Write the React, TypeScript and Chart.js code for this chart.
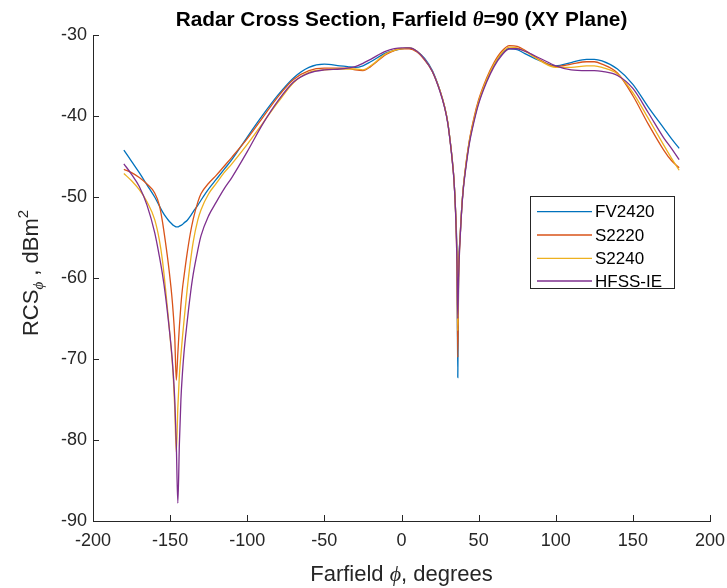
import React, { useEffect, useRef } from 'react';
import { Chart, registerables } from 'chart.js';

Chart.register(...registerables);

// Farfield angle phi (degrees)
const PHI = [
  -180, -175, -170, -165, -160, -157, -155, -153, -151, -149,
  -148, -147, -146, -145, -144, -143, -142, -141, -139, -137,
  -135, -132, -130, -125, -120, -115, -110, -100, -90, -80,
  -70, -60, -50, -40, -35, -30, -25, -20, -10, 0,
  5, 10, 15, 20, 25, 28, 30, 32, 33, 34,
  35, 36, 36.5, 37, 38, 39, 40, 42, 44, 47,
  50, 55, 60, 65, 70, 75, 80, 90, 100, 110,
  120, 125, 130, 140, 150, 160, 170, 175, 180,
];

const FV2420 = [
  -44.2, -45.6, -47.0, -48.5, -50.0, -51.1, -51.8, -52.4, -52.9, -53.3,
  -53.5, -53.6, -53.7, -53.7, -53.6, -53.5, -53.4, -53.2, -52.9, -52.4,
  -51.8, -51.0, -50.4, -49.0, -47.8, -46.6, -45.4, -42.6, -39.9, -37.4,
  -35.3, -34.0, -33.6, -33.8, -33.9, -34.0, -33.8, -33.3, -32.2, -31.7,
  -31.6, -32.0, -32.9, -34.4, -36.9, -38.9, -40.8, -43.8, -45.6, -47.8,
  -51.5, -58.5, -72.3, -60.0, -55.0, -51.5, -49.0, -45.8, -43.2, -40.5,
  -38.3, -35.7, -33.7, -32.3, -31.7, -31.8, -32.3, -33.2, -33.8, -33.4,
  -33.0, -33.0, -33.2, -34.2, -36.1, -38.9, -41.5, -42.8, -44.0,
];

const S2220 = [
  -46.6, -47.0, -47.6, -48.4, -49.5, -51.0, -53.0, -55.6, -58.5, -62.0,
  -64.3, -67.3, -72.6, -69.3, -66.0, -63.3, -61.3, -59.8, -57.0, -54.6,
  -52.7, -50.6, -49.6, -48.3, -47.3, -46.2, -45.1, -42.8, -40.2, -37.6,
  -35.5, -34.4, -34.1, -34.1, -34.1, -34.3, -34.4, -33.9, -32.4, -31.7,
  -31.7, -32.1, -33.1, -34.5, -36.9, -38.9, -40.8, -43.8, -45.6, -47.8,
  -51.5, -58.5, -69.8, -60.0, -55.0, -51.5, -49.0, -45.6, -43.0, -40.2,
  -38.0, -35.4, -33.4, -32.0, -31.3, -31.4, -31.9, -33.1, -33.9, -33.6,
  -33.3, -33.3, -33.6, -34.7, -37.5, -41.0, -44.2, -45.5, -46.4,
];

const S2240 = [
  -47.1, -48.0, -49.1, -50.6, -52.8, -55.3, -57.8, -61.3, -65.2, -69.5,
  -72.0, -76.0, -81.5, -76.0, -72.0, -69.5, -67.3, -65.3, -61.5, -58.2,
  -55.5, -52.8, -51.6, -49.6, -48.3, -47.0, -45.9, -43.5, -40.9, -38.3,
  -35.9, -34.6, -34.3, -34.2, -34.2, -34.2, -34.3, -33.8, -32.3, -31.7,
  -31.6, -32.0, -33.0, -34.5, -36.9, -38.9, -40.8, -43.8, -45.6, -47.8,
  -51.5, -58.5, -66.5, -60.0, -55.0, -51.5, -49.0, -45.7, -43.1, -40.4,
  -38.2, -35.6, -33.6, -32.2, -31.5, -31.6, -32.0, -33.2, -34.0, -34.0,
  -33.8, -33.8, -34.0, -34.8, -37.1, -40.3, -43.6, -45.2, -46.7,
];

const HFSS_IE = [
  -45.9, -47.2, -48.7, -51.0, -54.4, -57.3, -59.5, -62.2, -65.5, -69.2,
  -71.7, -75.0, -80.5, -87.8, -80.5, -75.0, -71.7, -69.2, -65.5, -62.2,
  -59.5, -56.5, -54.8, -52.3, -50.6, -49.0, -47.6, -44.4, -41.0, -38.1,
  -35.8, -34.7, -34.3, -34.2, -34.1, -33.9, -33.5, -33.0, -32.0, -31.6,
  -31.6, -32.0, -33.0, -34.5, -37.0, -39.0, -40.9, -43.9, -45.7, -47.9,
  -51.6, -58.5, -65.0, -60.0, -55.2, -51.7, -49.2, -46.0, -43.4, -40.7,
  -38.5, -35.9, -33.9, -32.5, -31.7, -31.7, -32.0, -32.9, -33.8, -34.3,
  -34.4, -34.4, -34.5, -35.0, -36.6, -39.6, -42.7, -44.0, -45.4,
];

const SERIES = [FV2420, S2220, S2240, HFSS_IE];
const SERIES_LABELS = ['FV2420', 'S2220', 'S2240', 'HFSS-IE'];
const SERIES_COLORS = ['#0072BD', '#D95319', '#EDB120', '#7E2F8E'];

const X_TICKS = [-200, -150, -100, -50, 0, 50, 100, 150, 200];
const Y_TICKS = [-90, -80, -70, -60, -50, -40, -30];

const SANS = "'Liberation Sans', Arial, Helvetica, sans-serif";
const SERIF = "'Liberation Serif', 'Times New Roman', serif";
const AXIS_COLOR = '#262626';

type Run = { text: string; font: string; dy?: number };

function drawRuns(ctx: CanvasRenderingContext2D, runs: Run[], cx: number, baseline: number) {
  let total = 0;
  const widths = runs.map((r) => {
    ctx.font = r.font;
    const w = ctx.measureText(r.text).width;
    total += w;
    return w;
  });
  let x = cx - total / 2;
  ctx.textAlign = 'left';
  ctx.textBaseline = 'alphabetic';
  runs.forEach((r, i) => {
    ctx.font = r.font;
    ctx.fillText(r.text, x, baseline + (r.dy || 0));
    x += widths[i];
  });
}

const decorPlugin = {
  id: 'decor',
  afterDraw(chart: any) {
    const { ctx, chartArea: a, scales } = chart;
    ctx.save();
    // inward tick marks
    ctx.strokeStyle = AXIS_COLOR;
    ctx.lineWidth = 1;
    ctx.beginPath();
    X_TICKS.forEach((v) => {
      const px = Math.round(scales.x.getPixelForValue(v)) + 0.5;
      ctx.moveTo(px, a.bottom);
      ctx.lineTo(px, a.bottom - 6);
    });
    Y_TICKS.forEach((v) => {
      const py = Math.round(scales.y.getPixelForValue(v)) + 0.5;
      ctx.moveTo(a.left, py);
      ctx.lineTo(a.left + 6, py);
    });
    ctx.stroke();

    const cx = (a.left + a.right) / 2;
    // title
    ctx.fillStyle = '#000000';
    drawRuns(
      ctx,
      [
        { text: 'Radar Cross Section, Farfield ', font: `bold 20.8px ${SANS}` },
        { text: '\u03B8', font: `italic bold 20.8px ${SERIF}` },
        { text: '=90 (XY Plane)', font: `bold 20.8px ${SANS}` },
      ],
      cx,
      26
    );

    // x label
    ctx.fillStyle = AXIS_COLOR;
    drawRuns(
      ctx,
      [
        { text: 'Farfield ', font: `22px ${SANS}` },
        { text: '\u03D5', font: `italic 22px ${SERIF}` },
        { text: ', degrees', font: `22px ${SANS}` },
      ],
      cx,
      581
    );

    // y label (rotated)
    ctx.save();
    ctx.translate(30, (a.top + a.bottom) / 2 - 5);
    ctx.rotate(-Math.PI / 2);
    drawRuns(
      ctx,
      [
        { text: 'RCS', font: `22px ${SANS}` },
        { text: '\u03D5', font: `italic 15px ${SERIF}`, dy: 5 },
        { text: ' , dBm', font: `22px ${SANS}` },
        { text: '2', font: `15px ${SANS}`, dy: -10 },
      ],
      0,
      8
    );
    ctx.restore();

    // legend
    const lx = 530.5, ly = 196.5, lw = 144, lh = 92;
    ctx.fillStyle = '#ffffff';
    ctx.fillRect(lx, ly, lw, lh);
    ctx.strokeStyle = AXIS_COLOR;
    ctx.lineWidth = 1;
    ctx.strokeRect(lx, ly, lw, lh);
    const rows = [211.7, 235, 258.3, 281];
    ctx.font = `17px ${SANS}`;
    ctx.textAlign = 'left';
    ctx.textBaseline = 'middle';
    SERIES_LABELS.forEach((lab, i) => {
      ctx.strokeStyle = SERIES_COLORS[i];
      ctx.lineWidth = 1.3;
      ctx.beginPath();
      ctx.moveTo(537, rows[i]);
      ctx.lineTo(592, rows[i]);
      ctx.stroke();
      ctx.fillStyle = '#000000';
      ctx.fillText(lab, 595, rows[i] + 1);
    });
    ctx.restore();
  },
};

export default function App() {
  const canvasRef = useRef<HTMLCanvasElement | null>(null);

  useEffect(() => {
    const canvas = canvasRef.current;
    if (!canvas) return;
    const datasets = SERIES.map((s, i) => ({
      label: SERIES_LABELS[i],
      data: PHI.map((x, j) => ({ x, y: s[j] })),
      borderColor: SERIES_COLORS[i],
      backgroundColor: SERIES_COLORS[i],
      borderWidth: 1.3,
      pointRadius: 0,
      pointHoverRadius: 0,
      fill: false,
      cubicInterpolationMode: 'monotone' as const,
      order: SERIES.length - 1 - i,
    }));

    const chart = new Chart(canvas, {
      type: 'line',
      data: { datasets },
      options: {
        animation: false,
        responsive: false,
        maintainAspectRatio: false,
        devicePixelRatio: 1,
        layout: { padding: { top: 35, right: 17, left: 0, bottom: 0 } },
        plugins: {
          legend: { display: false },
          title: { display: false },
          tooltip: { enabled: false },
        },
        scales: {
          x: {
            type: 'linear',
            min: -200,
            max: 200,
            afterFit: (s: any) => {
              s.height = 67;
              s.paddingLeft = 0;
              s.paddingRight = 0;
            },
            afterBuildTicks: (s: any) => {
              s.ticks = X_TICKS.map((v) => ({ value: v }));
            },
            ticks: {
              color: AXIS_COLOR,
              font: { family: SANS, size: 18 },
              padding: 9,
              maxRotation: 0,
              autoSkip: false,
            },
            grid: { display: true, drawOnChartArea: false, drawTicks: false },
            border: { display: true, color: AXIS_COLOR, width: 1 },
          },
          y: {
            type: 'linear',
            min: -90,
            max: -30,
            afterFit: (s: any) => {
              s.width = 93;
              s.paddingTop = 0;
              s.paddingBottom = 0;
            },
            afterBuildTicks: (s: any) => {
              s.ticks = Y_TICKS.map((v) => ({ value: v }));
            },
            ticks: {
              color: AXIS_COLOR,
              font: { family: SANS, size: 18 },
              padding: 6,
              autoSkip: false,
            },
            grid: { display: true, drawOnChartArea: false, drawTicks: false },
            border: { display: true, color: AXIS_COLOR, width: 1 },
          },
        },
      },
      plugins: [decorPlugin],
    });
    return () => chart.destroy();
  }, []);

  return (
    <div style={{ position: 'absolute', left: 0, top: 0, width: 727, height: 588, background: '#ffffff' }}>
      <canvas ref={canvasRef} width={727} height={588} style={{ display: 'block' }} />
    </div>
  );
}
